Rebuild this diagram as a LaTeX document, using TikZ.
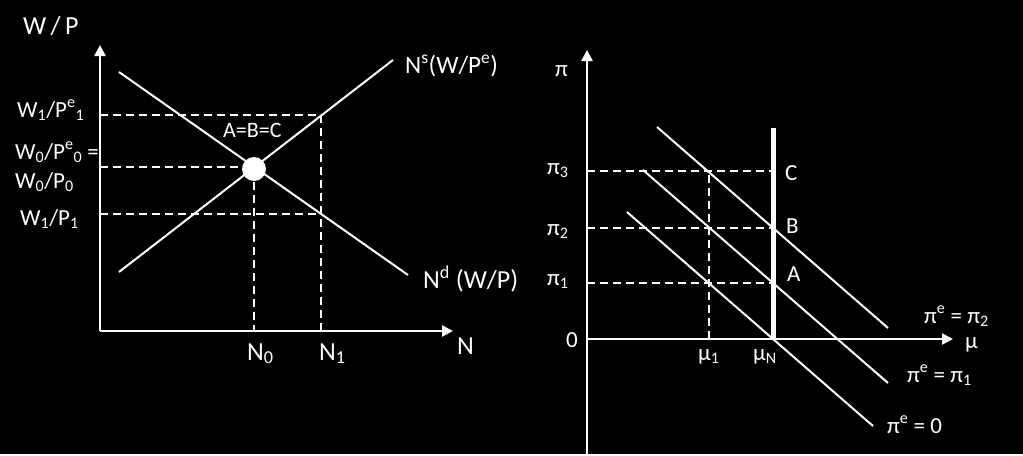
\documentclass[tikz,border=0pt]{standalone}
\usepackage{fontspec}
\setmainfont{Carlito}
\usetikzlibrary{arrows.meta}
\begin{document}
\begin{tikzpicture}[x=1pt,y=-1pt,
    every node/.style={text=white,inner sep=0pt,font=\fontsize{23}{27}\selectfont},
    lbl/.style={anchor=base west},
    small/.style={font=\fontsize{22}{26}\selectfont},
    big/.style={font=\fontsize{26}{30}\selectfont},
    axis/.style={draw=white,line width=2.4pt,-{Triangle[width=11pt,length=11pt]}},
    curve/.style={draw=white,line width=2pt},
    guide/.style={draw=white,line width=2pt,dash pattern=on 8pt off 5pt}]
\fill[black] (0,0) rectangle (1023,454);
% left: labour market
\coordinate (O1) at (100,331);
\coordinate (Ytop) at (100,45);
\coordinate (Xend) at (453,331);
\draw[axis] (O1) -- (Ytop);
\draw[axis] (O1) -- (Xend);
\coordinate (S0) at (119,272);
\coordinate (S1) at (393,60);
\coordinate (D0) at (119,72);
\coordinate (D1) at (408,275);
\draw[curve] (S0) -- (S1);
\draw[curve] (D0) -- (D1);
\coordinate (Wa) at (100,115);
\coordinate (Ha) at (321,115);
\coordinate (Na) at (321,331);
\coordinate (Wb) at (100,214);
\coordinate (Hb) at (321,214);
\coordinate (Wc) at (100,167);
\coordinate (Ec) at (254,167);
\coordinate (Nc) at (254,331);
\draw[guide] (Wa) -- (Ha) -- (Na);
\draw[guide] (Wb) -- (Hb);
\draw[guide] (Wc) -- (Ec) -- (Nc);
\node[circle,fill=white,minimum size=24pt] (E) at (254,169) {};
\node[lbl,big] (wp) at (23,34) {W\,/\,P};
\node[lbl,big] (n) at (457,354) {N};
\node[lbl] (w1pe1) at (17,117) {W\textsubscript{1}/P\textsuperscript{e}\textsubscript{1}};
\node[lbl] (w0pe0) at (15,159) {W\textsubscript{0}/P\textsuperscript{e}\textsubscript{0} =};
\node[lbl] (w0p0) at (15,188) {W\textsubscript{0}/P\textsubscript{0}};
\node[lbl] (w1p1) at (20,225) {W\textsubscript{1}/P\textsubscript{1}};
\node[lbl,small] (abc) at (223,137) {A=B=C};
\node[lbl,font=\fontsize{25}{29}\selectfont] (ns) at (405,73) {N\textsuperscript{s}(W/P\textsuperscript{e})};
\node[lbl,big] (nd) at (423,288) {N\textsuperscript{d} (W/P)};
\node[lbl,big] (n0) at (247,360) {N\textsubscript{0}};
\node[lbl,big] (n1) at (319,360) {N\textsubscript{1}};
% right: Phillips curves
\coordinate (O2) at (587,339);
\coordinate (Ptop) at (587,50);
\coordinate (Pbot) at (587,454);
\coordinate (Mend) at (953,339);
\draw[axis] (Pbot) -- (Ptop);
\draw[axis] (O2) -- (Mend);
\coordinate (L0a) at (627,212);
\coordinate (L0b) at (873,426);
\coordinate (L1a) at (643,170);
\coordinate (L1b) at (888,383);
\coordinate (L2a) at (657,127);
\coordinate (L2b) at (888,328);
\draw[curve] (L0a) -- (L0b);
\draw[curve] (L1a) -- (L1b);
\draw[curve] (L2a) -- (L2b);
\coordinate (P1) at (587,283);
\coordinate (P2) at (587,228);
\coordinate (P3) at (587,171);
\coordinate (A) at (773,283);
\coordinate (B) at (773,228);
\coordinate (C) at (773,171);
\coordinate (M1) at (709,339);
\coordinate (M1top) at (709,171);
\draw[guide] (P1) -- (A);
\draw[guide] (P2) -- (B);
\draw[guide] (P3) -- (C);
\draw[guide] (M1) -- (M1top);
\coordinate (Vtop) at (773,128);
\coordinate (MN) at (773,339);
\draw[draw=white,line width=5pt] (Vtop) -- (MN);
\node[lbl] (pi) at (555,76) {π};
\node[lbl] (pi3) at (547,174) {π\textsubscript{3}};
\node[lbl] (pi2) at (547,235) {π\textsubscript{2}};
\node[lbl] (pi1) at (547,285) {π\textsubscript{1}};
\node[lbl] (zero) at (566,347) {0};
\node[lbl] (lc) at (785,180) {C};
\node[lbl] (lb) at (786,233) {B};
\node[lbl] (la) at (787,281) {A};
\node[lbl] (mu1) at (698,360) {μ\textsubscript{1}};
\node[lbl] (muN) at (753,360) {μ\textsubscript{N}};
\node[lbl] (mu) at (965,348) {μ};
\node[lbl] (pe2) at (924,323) {π\textsuperscript{e} = π\textsubscript{2}};
\node[lbl] (pe1) at (907,382) {π\textsuperscript{e} = π\textsubscript{1}};
\node[lbl] (pe0) at (887,433) {π\textsuperscript{e} = 0};
\end{tikzpicture}
\end{document}
